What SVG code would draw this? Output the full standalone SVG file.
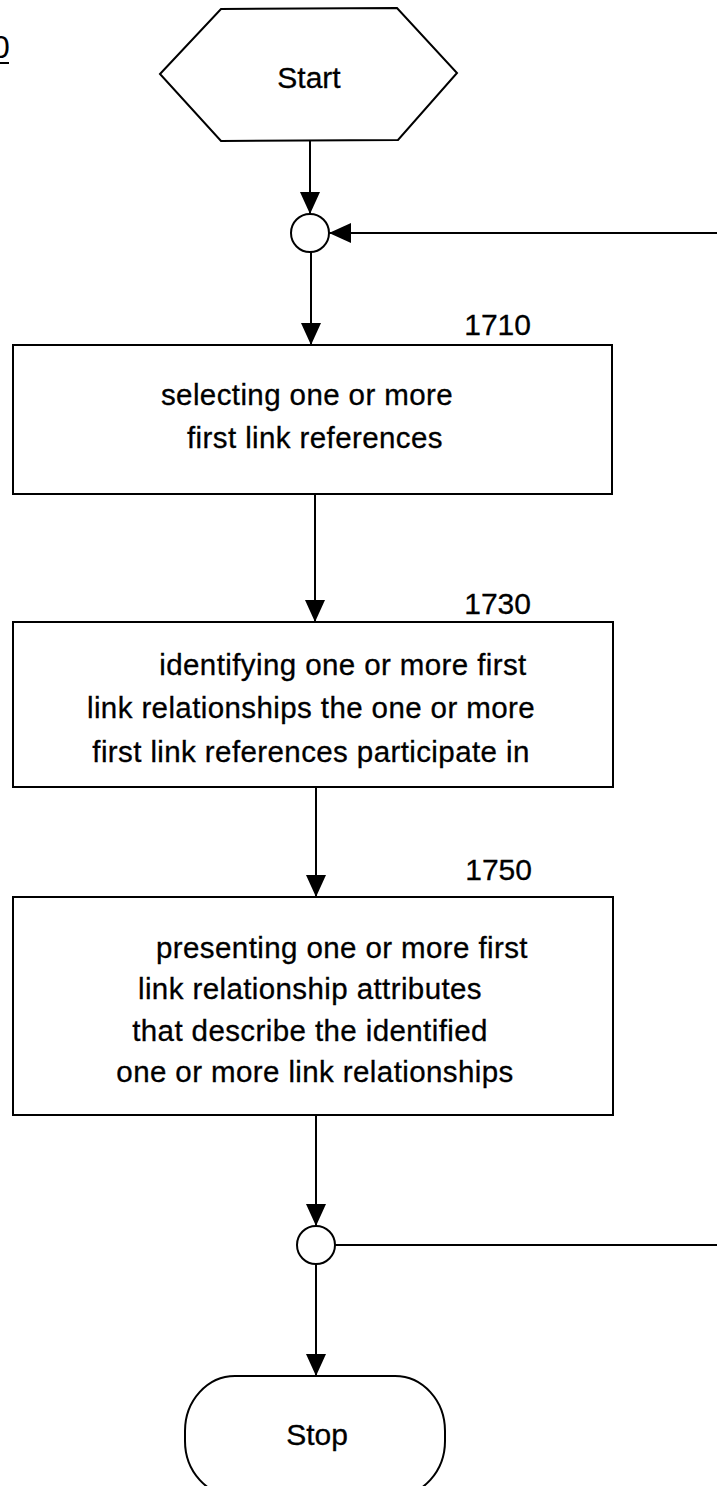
<svg xmlns="http://www.w3.org/2000/svg" width="717" height="1486" viewBox="0 0 717 1486">
<style>
.shape{fill:#fff;stroke:#000;stroke-width:2}
.line{fill:none;stroke:#000;stroke-width:2}
.t{font-family:"Liberation Sans",Arial,sans-serif;font-size:29.5px;letter-spacing:0.4px;fill:#000;stroke:#000;stroke-width:0.3;text-anchor:middle}
.lbl{font-family:"Liberation Sans",Arial,sans-serif;font-size:30px;fill:#000;stroke:#000;stroke-width:0.3;text-anchor:end}
.term{font-family:"Liberation Sans",Arial,sans-serif;font-size:30px;fill:#000;stroke:#000;stroke-width:0.3;text-anchor:middle}
</style>
<defs>
<marker id="ah" markerUnits="userSpaceOnUse" markerWidth="22" markerHeight="20" viewBox="0 0 22 20" refX="22" refY="10" orient="auto"><path d="M0,0 L22,10 L0,20 z" fill="#000"/></marker>
</defs>
<rect width="717" height="1486" fill="#fff"/>

<g id="figlabel">
<text x="-8" y="58" style="font-family:'Liberation Sans',Arial,sans-serif;font-size:32px" fill="#000">0</text>
<line class="line" x1="0" y1="63" x2="9" y2="63" stroke-width="1.5"/>
</g>

<g id="connectors">
<line class="line" x1="310" y1="140" x2="310" y2="214" marker-end="url(#ah)"/>
<line class="line" x1="717" y1="233" x2="329" y2="233" marker-end="url(#ah)"/>
<line class="line" x1="311" y1="252" x2="311" y2="345" marker-end="url(#ah)"/>
<line class="line" x1="315" y1="494" x2="315" y2="622" marker-end="url(#ah)"/>
<line class="line" x1="316" y1="787" x2="316" y2="897" marker-end="url(#ah)"/>
<line class="line" x1="316" y1="1115" x2="316" y2="1226" marker-end="url(#ah)"/>
<line class="line" x1="335" y1="1245" x2="717" y2="1245"/>
<line class="line" x1="316" y1="1264" x2="316" y2="1376" marker-end="url(#ah)"/>
</g>

<g id="start">
<polygon class="shape" points="160,74 221,9 397,8 457,73 398,140 221,141"/>
<text class="term" x="309" y="88">Start</text>
</g>

<g id="merge1">
<circle class="shape" cx="310" cy="233" r="19"/>
</g>

<g id="n1710">
<rect class="shape" x="13" y="345" width="599" height="149"/>
<text class="lbl" x="531" y="335">1710</text>
<text class="t" x="307" y="405">selecting one or more</text>
<text class="t" x="315" y="448">first link references</text>
</g>

<g id="n1730">
<rect class="shape" x="13" y="622" width="600" height="165"/>
<text class="lbl" x="531" y="614">1730</text>
<text class="t" x="343" y="675">identifying one or more first</text>
<text class="t" x="311" y="718">link relationships the one or more</text>
<text class="t" x="311" y="762">first link references participate in</text>
</g>

<g id="n1750">
<rect class="shape" x="13" y="897" width="600" height="218"/>
<text class="lbl" x="532" y="880">1750</text>
<text class="t" x="342" y="958">presenting one or more first</text>
<text class="t" x="310" y="999">link relationship attributes</text>
<text class="t" x="310" y="1041">that describe the identified</text>
<text class="t" x="315" y="1082">one or more link relationships</text>
</g>

<g id="merge2">
<circle class="shape" cx="316" cy="1245" r="19"/>
</g>

<g id="stop">
<rect class="shape" x="185" y="1376" width="260" height="120" rx="50" ry="55"/>
<text class="term" x="317" y="1445">Stop</text>
</g>
</svg>
